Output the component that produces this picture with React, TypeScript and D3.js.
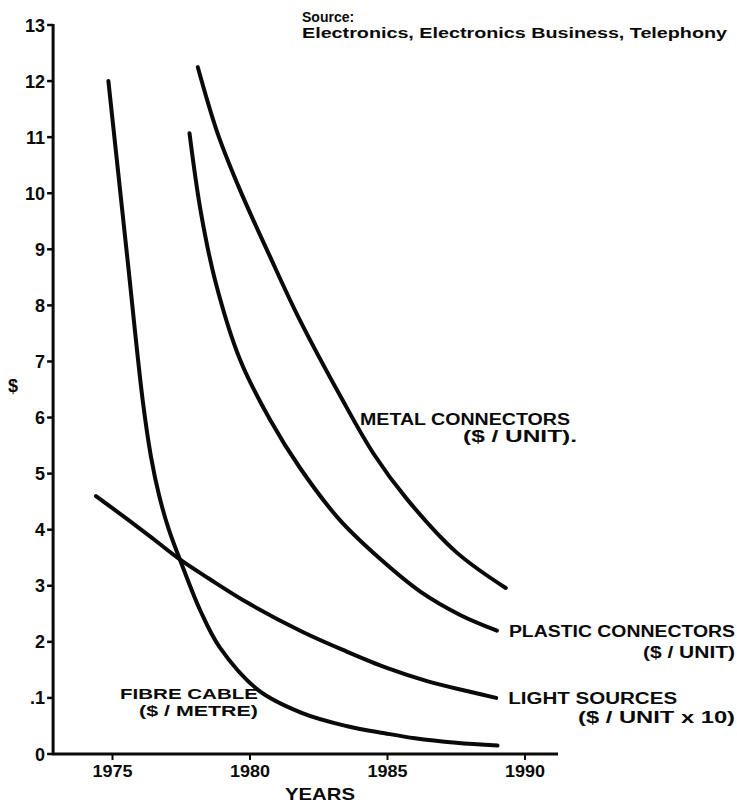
import React from "react";
import * as d3 from "d3";

// ---- data ----
const fibreYears = [1974.85, 1975.2, 1975.55, 1976.1, 1976.4, 1976.7, 1977.05, 1977.45, 1978.2, 1978.9, 1980.3, 1981.9, 1983.5, 1984.9, 1986.0, 1987.5, 1989.0];
const fibreValues = [12.0, 10.4, 8.8, 6.3, 5.3, 4.6, 4.0, 3.47, 2.55, 1.9, 1.14, 0.73, 0.5, 0.37, 0.28, 0.2, 0.15];

const lightYears = [1974.4, 1975.5, 1976.5, 1977.45, 1978.5, 1979.9, 1981.9, 1983.5, 1985.0, 1986.5, 1988.0, 1988.95];
const lightValues = [4.6, 4.2, 3.83, 3.47, 3.13, 2.7, 2.18, 1.83, 1.53, 1.29, 1.11, 1.0];

const plasticYears = [1977.8, 1978.2, 1978.73, 1979.64, 1980.73, 1981.82, 1983.27, 1984.73, 1986.18, 1987.64, 1988.98];
const plasticValues = [11.07, 9.7, 8.45, 7.03, 5.96, 5.1, 4.17, 3.48, 2.9, 2.48, 2.2];

const metalYears = [1978.1, 1978.8, 1979.6, 1980.7, 1981.8, 1983.3, 1984.5, 1985.7, 1987.5, 1989.3];
const metalValues = [12.25, 11.1, 10.1, 8.9, 7.75, 6.37, 5.35, 4.55, 3.6, 2.96];

const yTickValues = [0, 1, 2, 3, 4, 5, 6, 7, 8, 9, 10, 11, 12, 13];
const yTickLabels = ["0", ".1", "2", "3", "4", "5", "6", "7", "8", "9", "10", "11", "12", "13"];
const xTickValues = [1975, 1980, 1985, 1990];
const xTickLabels = ["1975", "1980", "1985", "1990"];

const sourceLines = ["Source:", "Electronics,  Electronics Business, Telephony"];

// ---- layout ----
const W = 737;
const H = 805;
const FONT = "'Liberation Sans', Arial, Helvetica, sans-serif";
const INK = "#0a0a0a";

const x = d3.scaleLinear().domain([1975, 1990]).range([112.5, 525]);
const y = d3.scaleLinear().domain([0, 13]).range([754, 25]);
const xAxisStart = 1972.84;
const xAxisEnd = 1991.2;

const zip = (xs: number[], ys: number[]) => xs.map((v, i) => [v, ys[i]] as [number, number]);

const line = d3
  .line<[number, number]>()
  .x((d) => x(d[0]))
  .y((d) => y(d[1]))
  .curve(d3.curveCatmullRom.alpha(0.5));

const series = [
  zip(fibreYears, fibreValues),
  zip(lightYears, lightValues),
  zip(plasticYears, plasticValues),
  zip(metalYears, metalValues),
];

export default function App() {
  const axisX = x(xAxisStart);
  const axisY = y(0);
  const plasticEnd = [plasticYears[plasticYears.length - 1], plasticValues[plasticValues.length - 1]];
  const lightEnd = [lightYears[lightYears.length - 1], lightValues[lightValues.length - 1]];

  const txt = {
    fontFamily: FONT,
    fontWeight: 700 as const,
    fill: INK,
  };

  return (
    <svg
      width={W}
      height={H}
      viewBox={`0 0 ${W} ${H}`}
      style={{ position: "absolute", left: 0, top: 0, background: "#fff" }}
    >
      <rect x={0} y={0} width={W} height={H} fill="#fff" />

      {/* source */}
      <text {...txt} x={302} y={22} fontSize={14}>
        {sourceLines[0]}
      </text>
      <text {...txt} x={302} y={38} fontSize={14} textLength={425} lengthAdjust="spacingAndGlyphs">
        {sourceLines[1]}
      </text>

      {/* y axis */}
      <line x1={axisX} x2={axisX} y1={y(13) - 1} y2={axisY + 1} stroke={INK} strokeWidth={3} />
      {yTickValues.map((v, i) => (
        <g key={v}>
          <line x1={axisX - 6} x2={axisX} y1={y(v)} y2={y(v)} stroke={INK} strokeWidth={2.5} />
          <text {...txt} x={axisX - 8} y={y(v) + 6.5} fontSize={18} textAnchor="end">
            {yTickLabels[i]}
          </text>
        </g>
      ))}
      <text {...txt} x={13} y={392} fontSize={18} textAnchor="middle">
        $
      </text>

      {/* x axis */}
      <line x1={axisX - 1} x2={x(xAxisEnd)} y1={axisY} y2={axisY} stroke={INK} strokeWidth={3} />
      {xTickValues.map((v, i) => (
        <g key={v}>
          <line x1={x(v)} x2={x(v)} y1={axisY} y2={axisY + 6} stroke={INK} strokeWidth={2} />
          <text {...txt} x={x(v)} y={axisY + 23} fontSize={16} textAnchor="middle" textLength={40} lengthAdjust="spacingAndGlyphs">
            {xTickLabels[i]}
          </text>
        </g>
      ))}
      <text {...txt} x={320} y={800} fontSize={17} textAnchor="middle" textLength={70} lengthAdjust="spacingAndGlyphs">
        YEARS
      </text>

      {/* curves */}
      {series.map((s, i) => (
        <path
          key={i}
          d={line(s) || ""}
          fill="none"
          stroke={INK}
          strokeWidth={4}
          strokeLinecap="round"
          strokeLinejoin="round"
        />
      ))}

      {/* labels */}
      <text {...txt} x={360} y={425} fontSize={16} textLength={210} lengthAdjust="spacingAndGlyphs">
        METAL  CONNECTORS
      </text>
      <text {...txt} x={463} y={442} fontSize={16} textLength={114} lengthAdjust="spacingAndGlyphs">
        ($ / UNIT).
      </text>

      <text {...txt} x={x(plasticEnd[0]) + 12} y={y(plasticEnd[1]) + 6} fontSize={16} textLength={226} lengthAdjust="spacingAndGlyphs">
        PLASTIC CONNECTORS
      </text>
      <text {...txt} x={735} y={y(plasticEnd[1]) + 27} fontSize={16} textAnchor="end" textLength={92} lengthAdjust="spacingAndGlyphs">
        ($ / UNIT)
      </text>

      <text {...txt} x={x(lightEnd[0]) + 12} y={y(lightEnd[1]) + 6} fontSize={16} textLength={169} lengthAdjust="spacingAndGlyphs">
        LIGHT SOURCES
      </text>
      <text {...txt} x={735} y={y(lightEnd[1]) + 25} fontSize={16} textAnchor="end" textLength={157} lengthAdjust="spacingAndGlyphs">
        ($ / UNIT x 10)
      </text>

      <text {...txt} x={120} y={699} fontSize={15} textLength={138} lengthAdjust="spacingAndGlyphs">
        FIBRE CABLE
      </text>
      <text {...txt} x={139} y={716} fontSize={15} textLength={119} lengthAdjust="spacingAndGlyphs">
        ($ / METRE)
      </text>
    </svg>
  );
}
